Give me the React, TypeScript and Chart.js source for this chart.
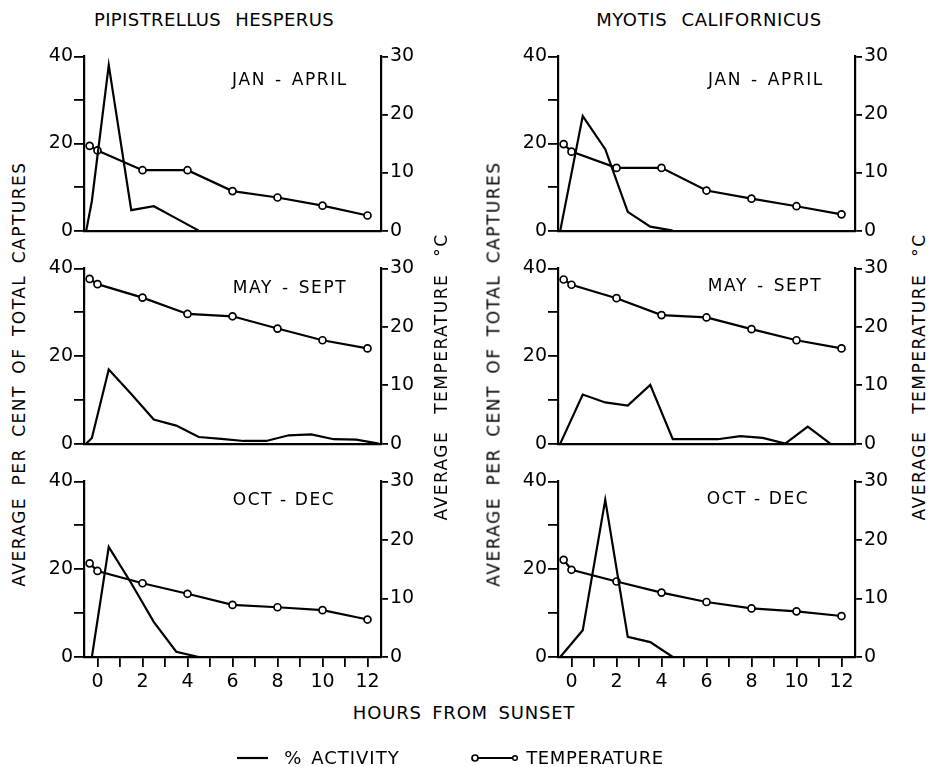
import React, { useEffect, useRef } from "react";
import { Chart, registerables } from "chart.js";
Chart.register(...registerables);

const FONT = "'DejaVu Sans', sans-serif";

// ---------- data ----------
const X_TICKS = [0, 1, 2, 3, 4, 5, 6, 7, 8, 9, 10, 11, 12];
const ACT_TICKS = [0, 10, 20, 30, 40];
const TEMP_TICKS = [0, 10, 20, 30];

const TEMP_HOURS = [-0.35, 0, 2, 4, 6, 8, 10, 12];

// Pipistrellus hesperus
const PH_JAN_HOURS = [-0.5, -0.25, 0.5, 1.5, 2.5, 3.5, 4.5];
const PH_JAN_ACT = [0, 6.8, 38, 4.7, 5.6, 2.8, 0];
const PH_JAN_TEMP = [14.6, 13.8, 10.4, 10.4, 6.8, 5.7, 4.3, 2.6];

const PH_MAY_HOURS = [-0.5, -0.25, 0.5, 1.5, 2.5, 3.5, 4.5, 5.5, 6.5, 7.5, 8.5, 9.5, 10.5, 11.5, 12.5];
const PH_MAY_ACT = [0, 1.3, 16.9, 11.3, 5.5, 4.1, 1.5, 1.1, 0.6, 0.6, 1.9, 2.1, 1.0, 0.9, 0];
const PH_MAY_TEMP = [28.2, 27.3, 25.0, 22.2, 21.8, 19.7, 17.7, 16.3];

const PH_OCT_HOURS = [-0.25, 0.5, 1.5, 2.5, 3.5, 4.5];
const PH_OCT_ACT = [0, 25.1, 16.8, 8.0, 1.2, 0];
const PH_OCT_TEMP = [16.0, 14.7, 12.6, 10.8, 8.9, 8.5, 8.0, 6.4];

// Myotis californicus
const MC_JAN_HOURS = [-0.5, 0.5, 1.5, 2.5, 3.5, 4.5];
const MC_JAN_ACT = [0, 26.3, 18.7, 4.3, 0.9, 0];
const MC_JAN_TEMP = [14.9, 13.6, 10.8, 10.8, 6.9, 5.5, 4.2, 2.8];

const MC_MAY_HOURS = [-0.5, 0.5, 1.5, 2.5, 3.5, 4.5, 5.5, 6.5, 7.5, 8.5, 9.5, 10.5, 11.5];
const MC_MAY_ACT = [0, 11.2, 9.4, 8.7, 13.4, 1.0, 1.0, 1.0, 1.7, 1.3, 0, 3.9, 0];
const MC_MAY_TEMP = [28.1, 27.2, 24.9, 22.0, 21.6, 19.6, 17.7, 16.3];

const MC_OCT_HOURS = [-0.5, 0.5, 1.5, 2.5, 3.5, 4.5];
const MC_OCT_ACT = [0, 6.1, 35.8, 4.6, 3.4, 0];
const MC_OCT_TEMP = [16.6, 14.9, 12.9, 11.0, 9.4, 8.3, 7.8, 7.0];

// ---------- layout ----------
const X_MIN = -0.6;
const X_MAX = 12.6;
const LEFT_W = 50;
const RIGHT_W = 50;
const PAD_TOP = 12;
const PLOT_W = 297;
const COL_PLOT_LEFT = [84, 558];
const ROWS = [
  { top: 55, h: 177 },
  { top: 267, h: 178 },
  { top: 480, h: 177 },
];

type PanelProps = {
  col: number;
  row: number;
  hours: number[];
  act: number[];
  temp: number[];
};

function Panel({ col, row, hours, act, temp }: PanelProps) {
  const ref = useRef<HTMLCanvasElement>(null);
  const bottom = row === 2;
  const xH = bottom ? 40 : 12;
  const left = COL_PLOT_LEFT[col] - LEFT_W;
  const top = ROWS[row].top - PAD_TOP;
  const width = LEFT_W + PLOT_W + RIGHT_W;
  const height = PAD_TOP + ROWS[row].h + xH;

  useEffect(() => {
    const tickFont = { family: FONT, size: 19 };
    const chart = new Chart(ref.current as HTMLCanvasElement, {
      type: "line",
      data: {
        datasets: [
          {
            label: "% ACTIVITY",
            data: hours.map((h, i) => ({ x: h, y: act[i] })),
            yAxisID: "y",
            borderColor: "#000",
            borderWidth: 2.2,
            pointRadius: 0,
            tension: 0,
          },
          {
            label: "TEMPERATURE",
            data: TEMP_HOURS.map((h, i) => ({ x: h, y: temp[i] })),
            yAxisID: "y2",
            borderColor: "#000",
            borderWidth: 2.2,
            pointRadius: 3.5,
            pointBackgroundColor: "#fff",
            pointBorderColor: "#000",
            pointBorderWidth: 1.7,
            tension: 0,
          },
        ],
      },
      options: {
        animation: false,
        responsive: false,
        maintainAspectRatio: false,
        events: [],
        layout: { autoPadding: false, padding: { top: PAD_TOP, bottom: 0, left: 0, right: 0 } },
        plugins: { legend: { display: false }, tooltip: { enabled: false } },
        scales: {
          x: {
            type: "linear",
            min: X_MIN,
            max: X_MAX,
            afterBuildTicks: (s: any) => {
              s.ticks = X_TICKS.map((v) => ({ value: v }));
            },
            afterFit: (s: any) => {
              s.height = xH;
            },
            border: { display: true, color: "#000", width: 2.2 },
            grid: {
              display: true,
              drawOnChartArea: false,
              drawTicks: bottom,
              tickLength: 10,
              color: "#000",
              lineWidth: 1.8,
            },
            ticks: {
              display: bottom,
              color: "#000",
              font: tickFont,
              padding: 4,
              maxRotation: 0,
              autoSkip: false,
              callback: (v: any) => (Number(v) % 2 === 0 ? String(v) : ""),
            },
          },
          y: {
            type: "linear",
            position: "left",
            min: 0,
            max: 40,
            afterBuildTicks: (s: any) => {
              s.ticks = ACT_TICKS.map((v) => ({ value: v }));
            },
            afterFit: (s: any) => {
              s.width = LEFT_W;
            },
            border: { display: true, color: "#000", width: 2.2 },
            grid: { drawOnChartArea: false, drawTicks: true, tickLength: 10, color: "#000", lineWidth: 1.8 },
            ticks: {
              color: "#000",
              font: tickFont,
              padding: 1,
              callback: (v: any) => (Number(v) % 20 === 0 ? String(v) : ""),
            },
          },
          y2: {
            type: "linear",
            position: "right",
            min: 0,
            max: 30,
            afterBuildTicks: (s: any) => {
              s.ticks = TEMP_TICKS.map((v) => ({ value: v }));
            },
            afterFit: (s: any) => {
              s.width = RIGHT_W;
            },
            border: { display: true, color: "#000", width: 2.2 },
            grid: { drawOnChartArea: false, drawTicks: true, tickLength: 7, color: "#000", lineWidth: 1.8 },
            ticks: {
              color: "#000",
              font: tickFont,
              padding: 2,
              callback: (v: any) => String(v),
            },
          },
        },
      } as any,
    });
    return () => chart.destroy();
  }, []);

  return (
    <canvas
      ref={ref}
      width={width}
      height={height}
      style={{ position: "absolute", left, top, width, height }}
    />
  );
}

type TextProps = {
  x: number;
  y: number;
  text: string;
  size?: number;
  ls?: number;
  ws?: number;
  rot?: boolean;
};

function Txt({ x, y, text, size = 17, ls = 1, ws = 0, rot = false }: TextProps) {
  return (
    <div
      style={{
        position: "absolute",
        left: x,
        top: y,
        transform: `translate(-50%, -50%)${rot ? " rotate(-90deg)" : ""}`,
        fontFamily: FONT,
        fontSize: size,
        letterSpacing: ls,
        wordSpacing: ws,
        lineHeight: 1,
        whiteSpace: "nowrap",
        color: "#000",
      }}
    >
      {text}
    </div>
  );
}

export default function App() {
  return (
    <div
      style={{
        position: "absolute",
        left: 0,
        top: 0,
        width: 928,
        height: 767,
        background: "#fff",
        overflow: "hidden",
      }}
    >
      <Panel col={0} row={0} hours={PH_JAN_HOURS} act={PH_JAN_ACT} temp={PH_JAN_TEMP} />
      <Panel col={0} row={1} hours={PH_MAY_HOURS} act={PH_MAY_ACT} temp={PH_MAY_TEMP} />
      <Panel col={0} row={2} hours={PH_OCT_HOURS} act={PH_OCT_ACT} temp={PH_OCT_TEMP} />
      <Panel col={1} row={0} hours={MC_JAN_HOURS} act={MC_JAN_ACT} temp={MC_JAN_TEMP} />
      <Panel col={1} row={1} hours={MC_MAY_HOURS} act={MC_MAY_ACT} temp={MC_MAY_TEMP} />
      <Panel col={1} row={2} hours={MC_OCT_HOURS} act={MC_OCT_ACT} temp={MC_OCT_TEMP} />

      <Txt x={214} y={20} text="PIPISTRELLUS HESPERUS" size={18} ls={0.4} ws={8} />
      <Txt x={709} y={20} text="MYOTIS CALIFORNICUS" size={18} ls={0.6} ws={8} />

      <Txt x={290} y={79} text="JAN - APRIL" size={17} ls={1.6} ws={2} />
      <Txt x={766} y={79} text="JAN - APRIL" size={17} ls={1.6} ws={2} />
      <Txt x={290} y={287} text="MAY - SEPT" size={17} ls={1.6} ws={2} />
      <Txt x={765} y={285} text="MAY - SEPT" size={17} ls={1.6} ws={2} />
      <Txt x={284} y={499} text="OCT - DEC" size={17} ls={1.6} ws={0} />
      <Txt x={758} y={498} text="OCT - DEC" size={17} ls={1.6} ws={0} />

      <Txt x={19} y={374} text="AVERAGE PER CENT OF TOTAL CAPTURES" size={17} ls={1.5} ws={4.5} rot />
      <Txt x={494} y={374} text="AVERAGE PER CENT OF TOTAL CAPTURES" size={17} ls={1.5} ws={4.5} rot />
      <Txt x={441} y={377} text="AVERAGE TEMPERATURE °C" size={17} ls={1.5} ws={10} rot />
      <Txt x={919} y={377} text="AVERAGE TEMPERATURE °C" size={17} ls={1.5} ws={10} rot />

      <Txt x={464} y={713} text="HOURS FROM SUNSET" size={18} ls={0.8} ws={4} />

      <svg
        width={928}
        height={767}
        style={{ position: "absolute", left: 0, top: 0, pointerEvents: "none" }}
      >
        <line x1={237} y1={758} x2={268} y2={758} stroke="#000" strokeWidth={2.2} />
        <line x1={478} y1={758} x2={513} y2={758} stroke="#000" strokeWidth={2.2} />
        <circle cx={475} cy={758} r={3} fill="#fff" stroke="#000" strokeWidth={1.7} />
        <circle cx={515} cy={758} r={2.3} fill="#fff" stroke="#000" strokeWidth={1.5} />
      </svg>
      <Txt x={342} y={758} text="% ACTIVITY" size={18} ls={1} ws={2} />
      <Txt x={595} y={758} text="TEMPERATURE" size={18} ls={0.6} ws={0} />
    </div>
  );
}
